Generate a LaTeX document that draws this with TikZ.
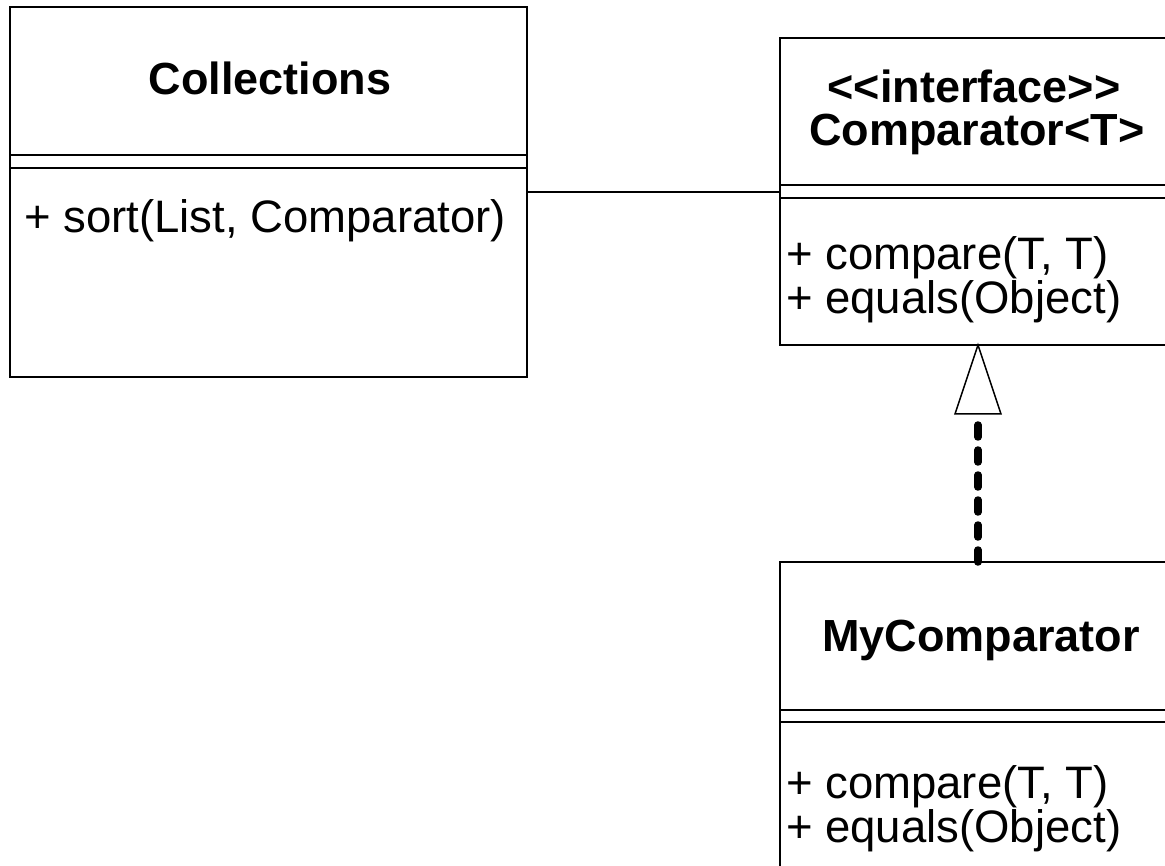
\documentclass[tikz,border=0pt]{standalone}
\usepackage{fontspec}
\setmainfont{Liberation Sans}
\begin{document}
\begin{tikzpicture}[x=1pt,y=-1pt,
  classbox/.style={draw=black,line width=1.6pt,fill=white,inner sep=0pt,outer sep=0pt},
  divider/.style={draw=black,line width=1.6pt},
  classname/.style={inner sep=0pt,anchor=base,font=\fontsize{45}{46}\selectfont\bfseries},
  member/.style={inner sep=0pt,anchor=base west,font=\fontsize{45.5}{46}\selectfont},
  assoc/.style={draw=black,line width=1.3pt},
  realize/.style={draw=black,line width=7.5pt,line cap=round,dash pattern=on 12pt off 13pt},
  opentri/.style={draw=black,line width=1.5pt,fill=white,line join=miter}]
\useasboundingbox (0,0) rectangle (1165,866);
\clip (0,0) rectangle (1165,866);

% class boxes (the two on the right run past the edge)
\node[classbox,minimum width=517pt,minimum height=370pt] (coll) at (268.5,192) {};
\node[classbox,minimum width=410pt,minimum height=307pt] (comp) at (985,191.5) {};
\node[classbox,minimum width=410pt,minimum height=330pt] (myc) at (985,727) {};

% compartment dividers
\draw[divider] ([yshift=-148pt]coll.north west) -- ([yshift=-148pt]coll.north east);
\draw[divider] ([yshift=-161pt]coll.north west) -- ([yshift=-161pt]coll.north east);
\draw[divider] ([yshift=-147pt]comp.north west) -- ([yshift=-147pt]comp.north east);
\draw[divider] ([yshift=-160pt]comp.north west) -- ([yshift=-160pt]comp.north east);
\draw[divider] ([yshift=-148pt]myc.north west) -- ([yshift=-148pt]myc.north east);
\draw[divider] ([yshift=-160pt]myc.north west) -- ([yshift=-160pt]myc.north east);

% names
\node[classname] (collname) at (270,95) {Collections};
\node[classname] (compstereo) at (974,103) {<\kern0pt<interface>\kern0pt>};
\node[classname] (compname) at (977,146) {Comparator<T>};
\node[classname] (mycname) at (981,651) {MyComparator};

% operations
\node[member] (collop) at (24,233) {+ sort(List, Comparator)};
\node[member] (compop1) at (786,270) {+ compare(T, T)};
\node[member] (compop2) at (786,314) {+ equals(Object)};
\node[member] (mycop1) at (786,798) {+ compare(T, T)};
\node[member] (mycop2) at (786,842) {+ equals(Object)};

% association
\draw[assoc] (coll.east |- 0,192) coordinate (aL) -- (comp.west |- aL);

% realization: dashed line with hollow triangle
\coordinate (tip) at ([xshift=198pt]comp.south west);
\coordinate (foot) at (tip |- myc.north);
\draw[realize] (foot) -- ([yshift=-79pt]tip);
\draw[opentri] (tip) -- ++(-23,69) -- ++(46,0) -- cycle;
\end{tikzpicture}
\end{document}
